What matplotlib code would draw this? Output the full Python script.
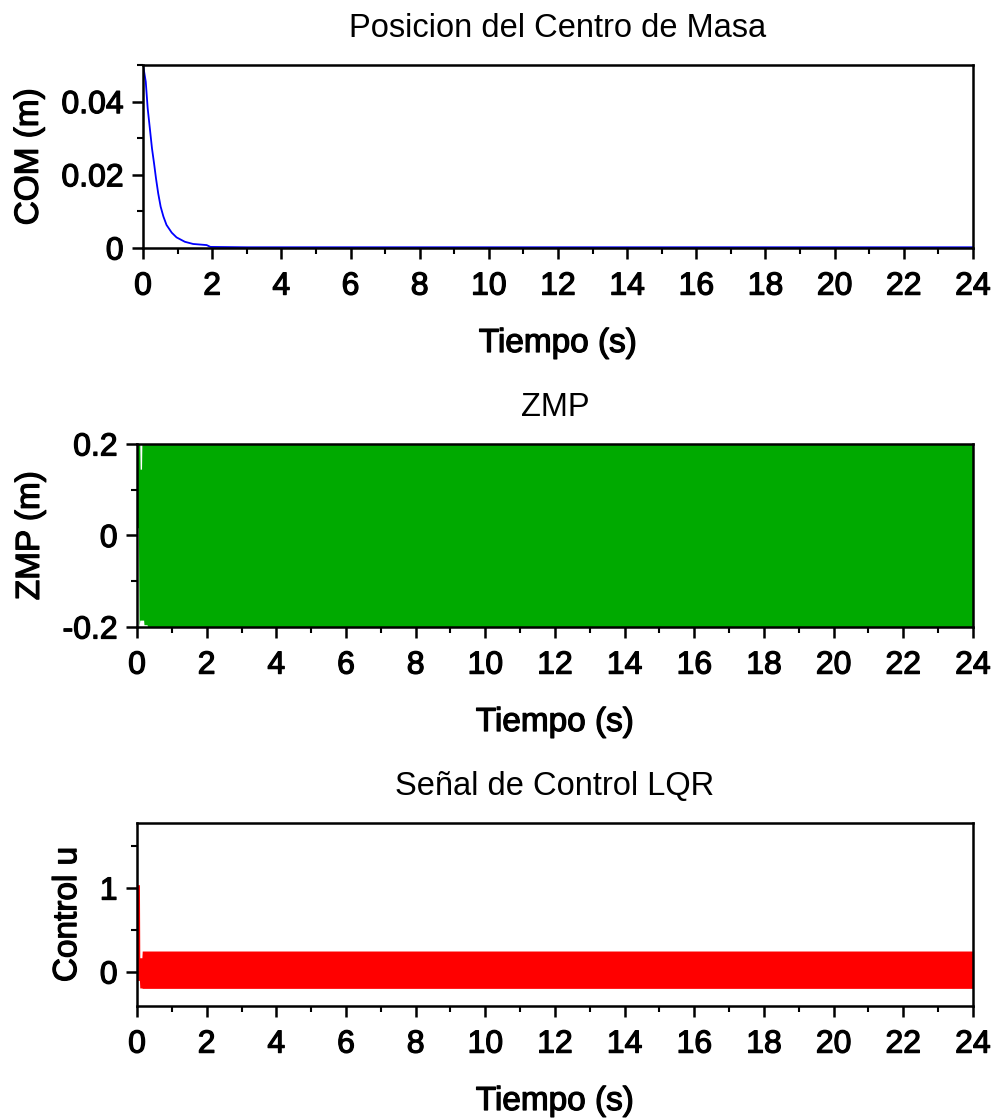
import matplotlib
matplotlib.use("Agg")
import matplotlib.pyplot as plt
import matplotlib.patheffects as pe
from matplotlib.ticker import MultipleLocator

plt.rcParams['font.family'] = ['Liberation Sans', 'DejaVu Sans']

# --- data ---
com_t = [0.0, 0.01, 0.08, 0.135, 0.2, 0.26, 0.32, 0.376, 0.44, 0.51, 0.59, 0.68,
         0.83, 0.97, 1.21, 1.45, 1.84, 1.95, 3.0, 6.0, 12.0, 18.0, 24.0]
com_y = [0.050, 0.0495, 0.0454, 0.0382, 0.0325, 0.0272, 0.0231, 0.019, 0.0149,
         0.0113, 0.0086, 0.0063, 0.0042, 0.0029, 0.0017, 0.0011, 0.0008, 0.0003,
         0.0002, 0.0002, 0.0002, 0.0002, 0.0002]

zmp_t = [0.0, 0.04, 0.06, 0.08, 0.09, 0.13, 0.14, 0.19, 0.2, 0.29, 0.3, 24.0]
zmp_upper = [0.2, 0.2, 0.2, 0.2, 0.145, 0.145, 0.2, 0.2, 0.2, 0.2, 0.2, 0.2]
zmp_lower = [0.017, 0.017, -0.2, -0.185, -0.185, -0.185, -0.185, -0.185, -0.195,
             -0.195, -0.2, -0.2]

u_t = [0.0, 0.07, 0.08, 0.14, 0.15, 24.0]
u_upper = [1.04, 1.04, 0.17, 0.17, 0.25, 0.25]
u_lower = [-0.1, -0.1, -0.19, -0.19, -0.195, -0.195]

titles = ["Posicion del Centro de Masa", "ZMP", "Señal de Control LQR"]
ylabels = ["COM (m)", "ZMP (m)", "Control u"]
xlabel = "Tiempo (s)"

W, H = 992, 1118
fig = plt.figure(figsize=(W / 100, H / 100), dpi=100)

def rect(left, right, top, bottom):
    return [left / W, 1 - bottom / H, (right - left) / W, (bottom - top) / H]

ax1 = fig.add_axes(rect(143, 973, 65, 248))
ax2 = fig.add_axes(rect(137, 973, 444, 627))
ax3 = fig.add_axes(rect(137, 973, 823, 1006))

ax1.plot(com_t, com_y, color='#0000ff', lw=1.3, zorder=3)
ax2.fill_between(zmp_t, zmp_lower, zmp_upper, color='#00aa00', lw=0, zorder=2)
ax3.fill_between(u_t, u_lower, u_upper, color='#ff0000', lw=0, zorder=2)

ax1.set_ylim(0, 0.05)
ax1.set_yticks([0, 0.02, 0.04])
ax1.set_yticklabels(["0", "0.02", "0.04"])
ax1.yaxis.set_minor_locator(MultipleLocator(0.01))

ax2.set_ylim(-0.2, 0.2)
ax2.set_yticks([-0.2, 0, 0.2])
ax2.set_yticklabels(["-0.2", "0", "0.2"])
ax2.yaxis.set_minor_locator(MultipleLocator(0.1))

ax3.set_ylim(-0.405, 1.775)
ax3.set_yticks([0, 1])
ax3.set_yticklabels(["0", "1"])
ax3.yaxis.set_minor_locator(MultipleLocator(0.5))

heavy = [pe.withStroke(linewidth=0.9, foreground='black')]

for ax, t, yl in zip([ax1, ax2, ax3], titles, ylabels):
    ax.set_xlim(0, 24)
    ax.set_xticks(range(0, 25, 2))
    ax.xaxis.set_minor_locator(MultipleLocator(1))
    for s in ax.spines.values():
        s.set_linewidth(1.8)
        s.set_color('black')
        s.set_zorder(5)
    ax.tick_params(which='major', direction='out', length=8, width=1.8,
                   labelsize=23, pad=6, top=False, right=False)
    ax.tick_params(which='minor', direction='out', length=4, width=1.5,
                   top=False, right=False)
    ax.tick_params(axis='x', which='major', pad=9)
    for lab in ax.get_xticklabels() + ax.get_yticklabels():
        lab.set_path_effects(heavy)
    ax.set_title(t, fontsize=23.5, pad=20)
    xl = ax.set_xlabel(xlabel, fontsize=24, labelpad=19)
    yl_ = ax.set_ylabel(yl, fontsize=24, labelpad=12)
    xl.set_path_effects(heavy)
    yl_.set_path_effects(heavy)

fig.savefig("out.png", dpi=100)
